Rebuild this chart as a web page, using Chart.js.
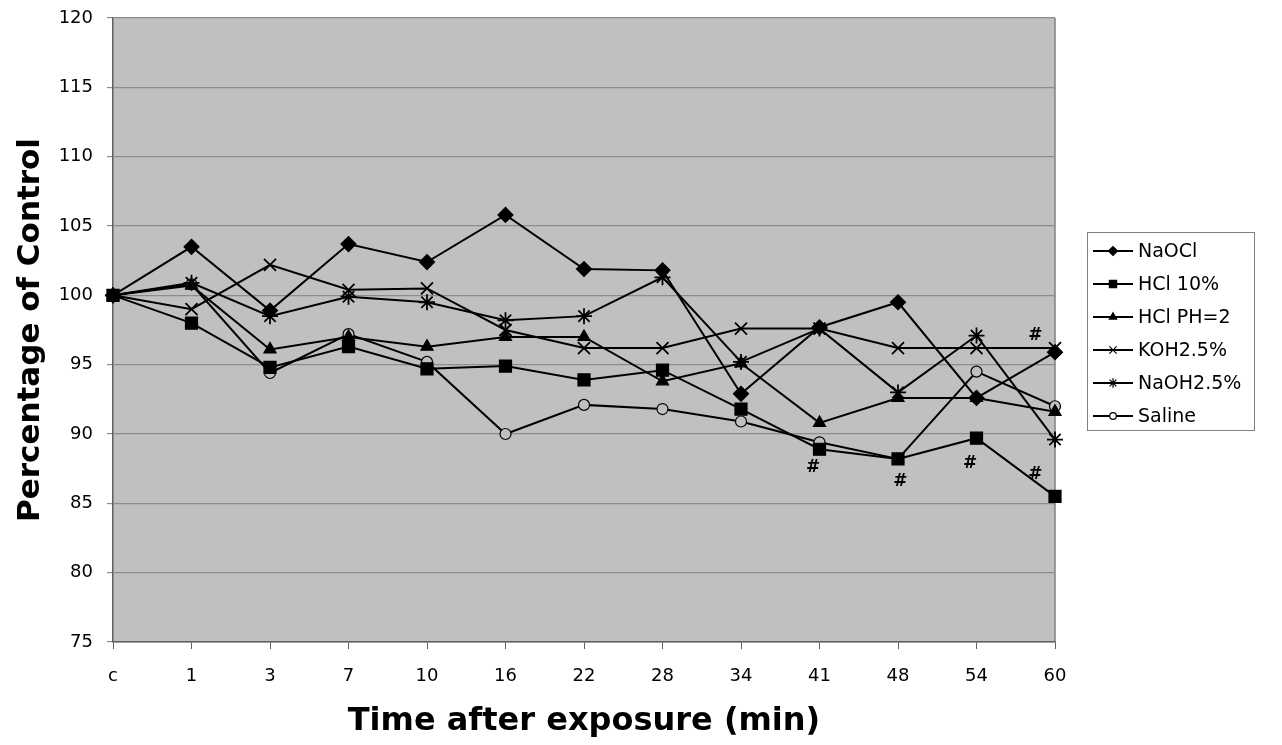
<!DOCTYPE html>
<html>
<head>
<meta charset="utf-8">
<script src="https://cdn.jsdelivr.net/npm/chart.js@4.4.1/dist/chart.umd.min.js"></script>
<style>
  html, body { margin: 0; padding: 0; background: #fff; }
  #wrap { width: 1282px; height: 745px; }
</style>
</head>
<body>
<div id="wrap"><canvas id="chart" width="1282" height="745"></canvas></div>
<script>
// categories (time after exposure)
const times = ['c', '1', '3', '7', '10', '16', '22', '28', '34', '41', '48', '54', '60'];

// percentage of control per treatment
const naocl   = [100, 103.5, 98.9, 103.7, 102.4, 105.8, 101.9, 101.8, 92.9, 97.7, 99.5, 92.6, 95.9];
const hcl10   = [100, 98.0, 94.8, 96.3, 94.7, 94.9, 93.9, 94.6, 91.8, 88.9, 88.2, 89.7, 85.5];
const hclPh2  = [100, 100.7, 96.1, 97.0, 96.3, 97.0, 97.0, 93.8, 95.1, 90.8, 92.6, 92.6, 91.6];
const koh     = [100, 99.0, 102.2, 100.4, 100.5, 97.5, 96.2, 96.2, 97.6, 97.6, 96.2, 96.2, 96.2];
const naoh    = [100, 100.9, 98.5, 99.9, 99.5, 98.2, 98.5, 101.3, 95.2, 97.6, 93.0, 97.1, 89.6];
const saline  = [100, 100.8, 94.4, 97.2, 95.2, 90.0, 92.1, 91.8, 90.9, 89.4, 88.2, 94.5, 92.0];

// "#" significance marks: [category position, value]
const hashX = [8.92, 10.03, 10.92, 11.75, 11.75];
const hashY = [87.6, 86.6, 87.9, 87.1, 97.1];

const yTicks = [75, 80, 85, 90, 95, 100, 105, 110, 115, 120];

const FONT = "'DejaVu Sans', Verdana, sans-serif";
const BG = '#c0c0c0';

function series(label, data, style, radius, fill) {
    return {
        label: label,
        data: data,
        borderColor: '#000',
        borderWidth: 2,
        pointStyle: style,
        pointRadius: radius,
        pointBorderWidth: (style === 'crossRot' || style === 'star') ? 1.8 : 1.2,
        pointBackgroundColor: fill,
        pointBorderColor: '#000',
        tension: 0,
        fill: false,
        clip: false
    };
}

const datasets = [
    series('NaOCl', naocl, 'rectRot', 7.5, '#000'),
    series('HCl 10%', hcl10, 'rect', 8.5, '#000'),
    series('HCl PH=2', hclPh2, 'triangle', 7, '#000'),
    series('KOH2.5%', koh, 'crossRot', 8.5, '#000'),
    series('NaOH2.5%', naoh, 'star', 8, '#000'),
    series('Saline', saline, 'circle', 5.5, BG)
];

// grey plot area + frame
const plotArea = {
    id: 'plotArea',
    beforeDraw(chart) {
        const a = chart.chartArea, ctx = chart.ctx;
        ctx.save();
        ctx.fillStyle = BG;
        ctx.fillRect(a.left, a.top, a.right - a.left, a.bottom - a.top);
        ctx.strokeStyle = '#808080';
        ctx.lineWidth = 1.5;
        ctx.beginPath();
        ctx.moveTo(a.right, a.top);
        ctx.lineTo(a.right, a.bottom);
        ctx.stroke();
        ctx.restore();
    }
};

// "#" marks placed through the scales
const hashMarks = {
    id: 'hashMarks',
    afterDatasetsDraw(chart) {
        const ctx = chart.ctx, xs = chart.scales.x, ys = chart.scales.y;
        ctx.save();
        ctx.fillStyle = '#000';
        ctx.font = 'bold 17px ' + FONT;
        ctx.textAlign = 'center';
        ctx.textBaseline = 'middle';
        hashX.forEach((xv, i) => {
            ctx.fillText('#', xs.getPixelForValue(xv), ys.getPixelForValue(hashY[i]));
        });
        ctx.restore();
    }
};

// boxed legend with line + marker samples
const boxLegend = {
    id: 'boxLegend',
    afterDraw(chart) {
        const ctx = chart.ctx;
        const left = 1087, top = 232, w = 167, h = 198, row = 33;
        ctx.save();
        ctx.fillStyle = '#fff';
        ctx.fillRect(left, top, w, h);
        ctx.strokeStyle = '#808080';
        ctx.lineWidth = 1;
        ctx.strokeRect(left + 0.5, top + 0.5, w, h);
        ctx.font = '19px ' + FONT;
        ctx.textBaseline = 'middle';
        chart.data.datasets.forEach((ds, i) => {
            const y = top + 19 + i * row;
            ctx.strokeStyle = '#000';
            ctx.lineWidth = 2;
            ctx.beginPath();
            ctx.moveTo(left + 6, y);
            ctx.lineTo(left + 46, y);
            ctx.stroke();
            ctx.fillStyle = ds.pointBackgroundColor === BG ? '#fff' : '#000';
            ctx.strokeStyle = '#000';
            ctx.lineWidth = 1.2;
            Chart.helpers.drawPoint(ctx, {
                pointStyle: ds.pointStyle,
                radius: ds.pointRadius * 0.6,
                rotation: 0,
                borderWidth: 1.2
            }, left + 26, y);
            ctx.fillStyle = '#000';
            ctx.fillText(ds.label, left + 51, y + 1);
        });
        ctx.restore();
    }
};

new Chart(document.getElementById('chart'), {
    type: 'line',
    data: { labels: times, datasets: datasets },
    plugins: [plotArea, hashMarks, boxLegend],
    options: {
        responsive: false,
        animation: false,
        layout: { padding: { top: 18, right: 227, bottom: 0, left: 0 } },
        plugins: {
            legend: { display: false },
            tooltip: { enabled: false }
        },
        scales: {
            x: {
                type: 'category',
                offset: false,
                grid: {
                    display: true,
                    drawOnChartArea: false,
                    drawTicks: true,
                    tickLength: 7,
                    color: '#606060',
                    lineWidth: 1
                },
                border: { color: '#606060', width: 1.5 },
                ticks: {
                    color: '#000',
                    font: { family: FONT, size: 18 },
                    padding: 17,
                    maxRotation: 0,
                    autoSkip: false
                },
                title: {
                    display: true,
                    text: 'Time after exposure (min)',
                    color: '#000',
                    font: { family: FONT, size: 32, weight: 'bold' },
                    padding: { top: 10, bottom: 4 }
                },
                afterFit(scale) {
                    scale.height = 103;
                    scale.paddingLeft = 0;
                    scale.paddingRight = 0;
                }
            },
            y: {
                min: 75,
                max: 120,
                afterBuildTicks(scale) { scale.ticks = yTicks.map(v => ({ value: v })); },
                grid: {
                    color: '#8c8c8c',
                    lineWidth: 1.2,
                    drawTicks: true,
                    tickLength: 6
                },
                border: { color: '#606060', width: 1.5 },
                ticks: {
                    color: '#000',
                    font: { family: FONT, size: 18 },
                    padding: 14
                },
                title: {
                    display: true,
                    text: 'Percentage of Control',
                    color: '#000',
                    font: { family: FONT, size: 31, weight: 'bold' },
                    padding: { top: 12, bottom: 0 }
                },
                afterFit(scale) {
                    scale.width = 113;
                    scale.paddingTop = 0;
                    scale.paddingBottom = 0;
                }
            }
        }
    }
});
</script>
</body>
</html>
